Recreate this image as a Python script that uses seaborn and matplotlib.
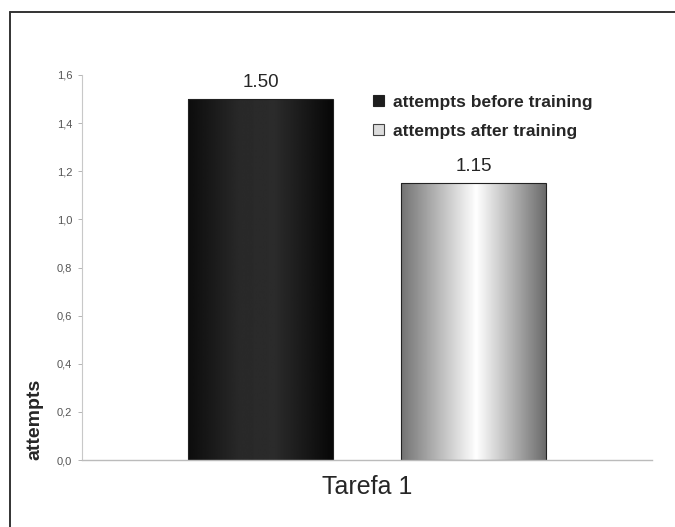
import numpy as np
import pandas as pd
import matplotlib
matplotlib.use("Agg")
import matplotlib.pyplot as plt
from matplotlib.patches import Patch
from matplotlib.lines import Line2D
from matplotlib.ticker import FuncFormatter
import seaborn as sns

# datos
tarefas = ["Tarefa 1", "Tarefa 1"]
grupos = ["attempts before training", "attempts after training"]
valores = [1.50, 1.15]
yticks = [0.0, 0.2, 0.4, 0.6, 0.8, 1.0, 1.2, 1.4, 1.6]

df = pd.DataFrame({"tarefa": tarefas, "grupo": grupos, "attempts": valores})

sns.set_theme(style="white")
plt.rcParams["font.family"] = ["Liberation Sans", "DejaVu Sans"]

fig = plt.figure(figsize=(6.75, 5.27), dpi=100)
ax = fig.add_axes([82 / 675, 67 / 527, 570 / 675, 385 / 527])

ax = sns.barplot(data=df, x="tarefa", y="attempts", hue="grupo",
                 palette=["#1a1a1a", "#d0d0d0"], width=0.8, gap=0.32,
                 edgecolor="#222222", linewidth=0.8, legend=False, ax=ax)

# degradados horizontales tipo Excel encima de cada barra
perfiles = [
    ([0.0, 0.35, 0.6, 1.0], [0.05, 0.16, 0.17, 0.03]),
    ([0.0, 0.52, 1.0], [0.45, 1.0, 0.42]),
]
xs = np.linspace(0, 1, 256)
for p, (stops, vals) in zip(ax.patches, perfiles):
    g = np.interp(xs, stops, vals)[None, :]
    x0, y0 = p.get_x(), p.get_y()
    img = ax.imshow(g, cmap="gray", vmin=0, vmax=1, aspect="auto",
                    extent=[x0, x0 + p.get_width(), y0, y0 + p.get_height()],
                    zorder=p.get_zorder() - 0.1, interpolation="bilinear")
    img.set_clip_path(p)
    p.set_facecolor("none")

ax.set_xlim(-0.535, 0.535)
ax.set_ylim(0, 1.6)
ax.set_yticks(yticks)
ax.yaxis.set_major_formatter(FuncFormatter(lambda v, _: f"{v:.1f}".replace(".", ",")))
ax.tick_params(axis="y", labelsize=8, colors="#aaaaaa",
               left=True, length=3, width=0.6, pad=4)
ax.tick_params(axis="y", labelcolor="#555555")
ax.tick_params(axis="x", bottom=False, labelsize=18, pad=5)

for lado in ["top", "right"]:
    ax.spines[lado].set_visible(False)
ax.spines["left"].set_color("#c8c8c8")
ax.spines["bottom"].set_color("#bbbbbb")
ax.spines["left"].set_linewidth(0.8)
ax.spines["bottom"].set_linewidth(1.0)

ax.set_xlabel("")
ax.set_ylabel("attempts", fontsize=14, fontweight="bold", loc="bottom", labelpad=10)

for cont in ax.containers:
    ax.bar_label(cont, fmt="%.2f", fontsize=13.5, padding=6)

handles = [Patch(facecolor="#1e1e1e", edgecolor="#222222", linewidth=0.8),
           Patch(facecolor="#dcdcdc", edgecolor="#444444", linewidth=0.8)]
ax.legend(handles, grupos, loc="upper left", bbox_to_anchor=(357 / 675, 1 - 79 / 527),
          bbox_transform=fig.transFigure, frameon=False,
          prop={"weight": "bold", "size": 12.5},
          handlelength=0.65, handleheight=0.65, handletextpad=0.5, labelspacing=0.8)

# marco de la figura (solo arriba y a la izquierda)
fig.add_artist(Line2D([10 / 675, 10 / 675], [0, 1 - 12 / 527], transform=fig.transFigure,
                      color="#333333", linewidth=1.4))
fig.add_artist(Line2D([10 / 675, 1], [1 - 12 / 527, 1 - 12 / 527], transform=fig.transFigure,
                      color="#333333", linewidth=1.4))

fig.savefig("out.png", dpi=100)
